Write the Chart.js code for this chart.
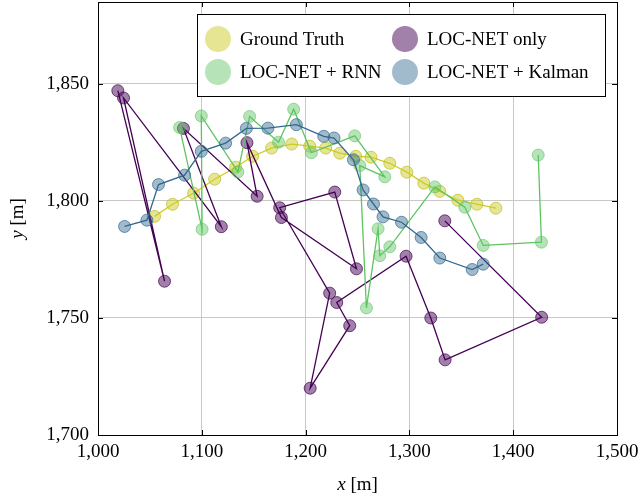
<!DOCTYPE html>
<html>
<head>
<meta charset="utf-8">
<script src="https://cdn.jsdelivr.net/npm/chart.js@4.4.0/dist/chart.umd.min.js"></script>
<style>
  html, body { margin: 0; padding: 0; background: #fff; }
  #wrap { width: 642px; height: 499px; }
</style>
</head>
<body>
<div id="wrap"><canvas id="trajChart" width="642" height="499"></canvas></div>
<script>
// tick values
var xTicks = [1000, 1100, 1200, 1300, 1400, 1500];
var yTicks = [1700, 1750, 1800, 1850];

// Ground truth trajectory
var gtX = [1054.5, 1071.8, 1092.1, 1112.4, 1132.6, 1149.0, 1167.3, 1186.6, 1204.0, 1219.4,
           1232.9, 1248.3, 1263.0, 1281.1, 1297.5, 1313.9, 1329.3, 1346.7, 1365.0, 1383.3];
var gtY = [1793.4, 1798.6, 1803.3, 1809.3, 1814.4, 1819.1, 1822.6, 1824.3, 1823.4, 1822.6,
           1820.4, 1819.1, 1818.7, 1816.1, 1812.3, 1807.6, 1804.1, 1800.3, 1798.6, 1796.9];

// LOC-NET only
var locX = [1019.1, 1064.1, 1024.6, 1118.8, 1082.3, 1153.3, 1143.5, 1176.7, 1249.0, 1228.1,
            1175.0, 1223.2, 1204.4, 1242.5, 1230.0, 1296.8, 1320.6, 1334.4, 1427.4, 1334.1];
var locY = [1847.1, 1765.7, 1844.0, 1789.0, 1831.0, 1802.0, 1824.9, 1792.9, 1771.0, 1803.8,
            1797.1, 1760.6, 1720.0, 1746.7, 1756.6, 1776.4, 1750.0, 1732.1, 1750.3, 1791.5];

// LOC-NET + RNN
var rnnX = [1078.6, 1100.3, 1099.5, 1134.8, 1146.1, 1173.9, 1188.5, 1205.6, 1247.3, 1276.3,
            1252.2, 1258.6, 1269.8, 1271.5, 1281.1, 1324.5, 1353.4, 1371.1, 1427.2, 1424.1];
var rnnY = [1831.4, 1787.9, 1836.3, 1812.4, 1836.1, 1825.1, 1839.2, 1820.6, 1827.8, 1810.3,
            1815.1, 1754.3, 1788.1, 1776.6, 1780.4, 1806.0, 1797.3, 1781.0, 1782.4, 1819.6];

// LOC-NET + Kalman
var kalX = [1025.6, 1047.1, 1058.3, 1083.4, 1099.5, 1122.9, 1142.9, 1163.7, 1191.1, 1217.5,
            1227.4, 1246.1, 1255.4, 1265.4, 1274.6, 1292.4, 1311.3, 1329.3, 1360.5, 1371.1];
var kalY = [1789.1, 1791.8, 1807.0, 1811.0, 1821.2, 1824.7, 1831.0, 1831.1, 1832.6, 1827.6,
            1826.9, 1817.6, 1804.7, 1798.7, 1793.2, 1790.9, 1784.4, 1775.6, 1770.7, 1773.0];

var seriesNames = ['Ground Truth', 'LOC-NET only', 'LOC-NET + RNN', 'LOC-NET + Kalman'];
var lineColors = ['rgb(206,204,40)', 'rgb(68,1,84)', 'rgb(94,196,98)', 'rgb(49,104,142)'];
var fillColors = ['rgba(206,204,40,0.5)', 'rgba(68,1,84,0.5)', 'rgba(94,196,98,0.45)', 'rgba(49,104,142,0.45)'];
var edgeColors = ['rgba(190,188,30,0.7)', 'rgba(68,1,84,0.7)', 'rgba(94,196,98,0.6)', 'rgba(49,104,142,0.7)'];

var serif = '"Liberation Serif", "Times New Roman", serif';
var fontSize = 19;

function toPoints(xs, ys) {
    return xs.map(function (x, i) { return { x: x, y: ys[i] }; });
}

var allX = [gtX, locX, rnnX, kalX];
var allY = [gtY, locY, rnnY, kalY];
var drawOrder = [4, 3, 2, 1];

var datasets = seriesNames.map(function (name, i) {
    return {
        label: name,
        data: toPoints(allX[i], allY[i]),
        showLine: true,
        borderColor: lineColors[i],
        borderWidth: 1.3,
        pointRadius: 6,
        pointHoverRadius: 6,
        pointBackgroundColor: fillColors[i],
        pointBorderColor: edgeColors[i],
        pointBorderWidth: 1,
        tension: 0,
        order: drawOrder[i]
    };
});

// frame, legend, inward ticks and axis titles drawn by hand (pgfplots look)
var decorations = {
    id: 'decorations',
    afterDraw: function (chart) {
        var ctx = chart.ctx;
        var area = chart.chartArea;
        var xs = chart.scales.x, ys = chart.scales.y;
        ctx.save();

        // frame
        ctx.strokeStyle = '#000';
        ctx.lineWidth = 1;
        ctx.strokeRect(Math.round(area.left) + 0.5, Math.round(area.top) + 0.5,
                       Math.round(area.right - area.left), Math.round(area.bottom - area.top));

        // inward ticks
        var tl = 5;
        xTicks.forEach(function (v) {
            var px = Math.round(xs.getPixelForValue(v)) + 0.5;
            ctx.beginPath();
            ctx.moveTo(px, area.bottom); ctx.lineTo(px, area.bottom - tl);
            ctx.moveTo(px, area.top); ctx.lineTo(px, area.top + tl);
            ctx.stroke();
        });
        yTicks.forEach(function (v) {
            var py = Math.round(ys.getPixelForValue(v)) + 0.5;
            ctx.beginPath();
            ctx.moveTo(area.left, py); ctx.lineTo(area.left + tl, py);
            ctx.moveTo(area.right, py); ctx.lineTo(area.right - tl, py);
            ctx.stroke();
        });

        // axis titles
        ctx.fillStyle = '#000';
        ctx.textBaseline = 'middle';
        ctx.textAlign = 'left';
        var cx = (area.left + area.right) / 2;
        var italicFont = 'italic ' + fontSize + 'px ' + serif;
        var plainFont = fontSize + 'px ' + serif;
        ctx.font = italicFont;
        var wItal = ctx.measureText('x').width;
        ctx.font = plainFont;
        var wRest = ctx.measureText(' [m]').width;
        var startX = cx - (wItal + wRest) / 2;
        ctx.font = italicFont;
        ctx.fillText('x', startX, 485);
        ctx.font = plainFont;
        ctx.fillText(' [m]', startX + wItal, 485);

        ctx.save();
        ctx.translate(18, (area.top + area.bottom) / 2);
        ctx.rotate(-Math.PI / 2);
        ctx.font = italicFont;
        wItal = ctx.measureText('y').width;
        startX = -(wItal + wRest) / 2;
        ctx.fillText('y', startX, 0);
        ctx.font = plainFont;
        ctx.fillText(' [m]', startX + wItal, 0);
        ctx.restore();

        // legend box
        var bx = 197, by = 14, bw = 408, bh = 82;
        ctx.fillStyle = '#fff';
        ctx.fillRect(bx, by, bw, bh);
        ctx.strokeStyle = '#000';
        ctx.lineWidth = 1;
        ctx.strokeRect(bx + 0.5, by + 0.5, bw, bh);

        var cols = [218, 405];
        var rows = [39, 72];
        ctx.font = plainFont;
        seriesNames.forEach(function (name, i) {
            var cxp = cols[i % 2], cyp = rows[Math.floor(i / 2)];
            ctx.beginPath();
            ctx.arc(cxp, cyp, 13, 0, Math.PI * 2);
            ctx.fillStyle = fillColors[i];
            ctx.fill();
            ctx.fillStyle = '#000';
            ctx.fillText(name, cxp + 22, cyp + 1);
        });
        ctx.restore();
    }
};

function noEdgePadding(scale) {
    scale.paddingTop = 0;
    scale.paddingBottom = 0;
    scale.paddingLeft = 0;
    scale.paddingRight = 0;
}

var ctx = document.getElementById('trajChart').getContext('2d');
var trajChart = new Chart(ctx, {
    type: 'scatter',
    data: { datasets: datasets },
    options: {
        responsive: false,
        animation: false,
        events: [],
        layout: { autoPadding: false, padding: { left: 0, top: 2, right: 25, bottom: 0 } },
        scales: {
            x: {
                type: 'linear',
                min: 1000,
                max: 1500,
                afterBuildTicks: function (scale) {
                    scale.ticks = xTicks.map(function (v) { return { value: v }; });
                },
                afterFit: function (scale) { scale.height = 64; noEdgePadding(scale); },
                grid: { color: '#c8c8c8', lineWidth: 1, drawTicks: false },
                border: { display: true, color: '#000', width: 1 },
                ticks: {
                    padding: 6,
                    color: '#000',
                    font: { family: serif, size: fontSize },
                    maxRotation: 0,
                    callback: function (v) { return v.toLocaleString('en-US'); }
                }
            },
            y: {
                type: 'linear',
                min: 1700,
                max: 1885,
                afterBuildTicks: function (scale) {
                    scale.ticks = yTicks.map(function (v) { return { value: v }; });
                },
                afterFit: function (scale) { scale.width = 98; noEdgePadding(scale); },
                grid: { color: '#c8c8c8', lineWidth: 1, drawTicks: false },
                border: { display: true, color: '#000', width: 1 },
                ticks: {
                    padding: 9,
                    color: '#000',
                    font: { family: serif, size: fontSize },
                    callback: function (v) { return v.toLocaleString('en-US'); }
                }
            }
        },
        plugins: {
            legend: { display: false },
            tooltip: { enabled: false }
        }
    },
    plugins: [decorations]
});
</script>
</body>
</html>
